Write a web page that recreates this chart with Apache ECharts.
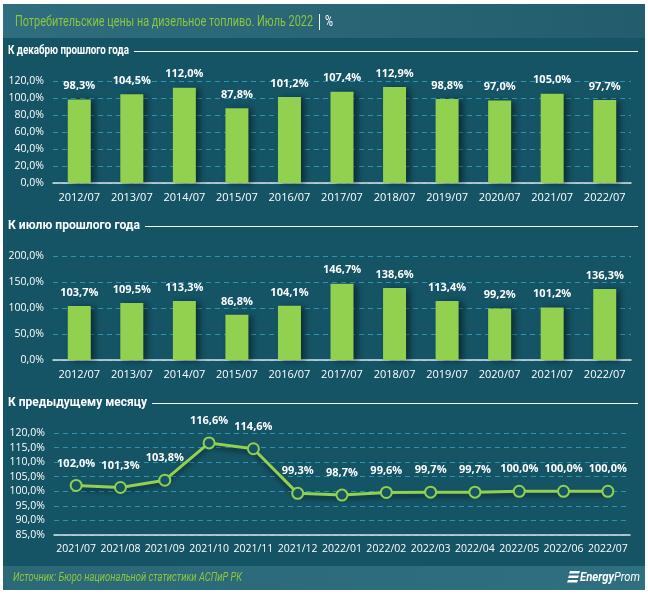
<!DOCTYPE html>
<html><head><meta charset="utf-8">
<script src="https://cdn.jsdelivr.net/npm/echarts@6/dist/echarts.min.js"></script>
<style>html,body{margin:0;padding:0;background:#fff}#c{width:648px;height:595px}</style>
</head><body><div id="c"></div>
<script>
const yearCats = ['2012/07','2013/07','2014/07','2015/07','2016/07','2017/07','2018/07','2019/07','2020/07','2021/07','2022/07'];
const decValues = [98.3,104.5,112.0,87.8,101.2,107.4,112.9,98.8,97.0,105.0,97.7];
const julValues = [103.7,109.5,113.3,86.8,104.1,146.7,138.6,113.4,99.2,101.2,136.3];
const monthCats = ['2021/07','2021/08','2021/09','2021/10','2021/11','2021/12','2022/01','2022/02','2022/03','2022/04','2022/05','2022/06','2022/07'];
const momValues = [102.0,101.3,103.8,116.6,114.6,99.3,98.7,99.6,99.7,99.7,100.0,100.0,100.0];

const FONT = '"Open Sans", "Noto Sans", sans-serif';
const GREEN = '#92d050';
const fmt = v => v.toFixed(1).replace('.', ',') + '%';

const mctx = document.createElement('canvas').getContext('2d');
function fitText(text, font, x, y, targetW, fill){
  mctx.font = font;
  const w = mctx.measureText(text).width;
  const s = targetW / w;
  return {type:'text', x:x, y:y, scaleX:s, originX:0, originY:0,
    style:{text:text, fill:fill, font:font, textVerticalAlign:'middle', textBaseline:'middle'}};
}

const chart = echarts.init(document.getElementById('c'), null, {renderer:'canvas'});

function xAx(grid, data, fs){
  return {type:'category', gridIndex:grid, data:data,
    axisLine:{show:true, lineStyle:{color:'#d9e4e8', width:1.5}},
    axisTick:{show:false},
    axisLabel:{interval:0, hideOverlap:false, color:'#ffffff', fontFamily:FONT, fontSize:fs, margin:9}};
}
function yAx(grid, min, max, interval){
  return {type:'value', gridIndex:grid, min:min, max:max, interval:interval,
    axisLine:{show:false}, axisTick:{show:false},
    axisLabel:{color:'#ffffff', fontFamily:FONT, fontSize:10.5, margin:9, formatter:v=>fmt(v)},
    splitLine:{show:true, lineStyle:{color:'#2f93b0', type:[5,4], width:1}}};
}
function barSeries(idx, data){
  return {type:'bar', xAxisIndex:idx, yAxisIndex:idx, data:data, barWidth:23,
    itemStyle:{color:GREEN, shadowColor:'rgba(0,0,0,0.45)', shadowBlur:6, shadowOffsetX:4, shadowOffsetY:1},
    label:{show:true, position:'top', distance:8, color:'#ffffff', fontFamily:FONT, fontWeight:'bold', fontSize:11, formatter:p=>fmt(p.value)}};
}

const TFONT = 'bold 13px Roboto, sans-serif';
function sectionTitle(text, y, lineStart){
  return [
    fitText(text, TFONT, 8, y, lineStart - 13, '#ffffff'),
    {type:'line', shape:{x1:lineStart, y1:y+0.5, x2:638, y2:y+0.5}, style:{stroke:'#ffffff', lineWidth:1}}
  ];
}

const option = {
  animation:false,
  backgroundColor:'#ffffff',
  graphic:[
    {type:'rect', shape:{x:3, y:4, width:642, height:586}, style:{fill:'#145465'}, z:-10},
    {type:'rect', shape:{x:3, y:4, width:642, height:34}, z:-9,
      style:{fill:new echarts.graphic.LinearGradient(0,0,1,0,[{offset:0,color:'#2f6e7e'},{offset:1,color:'#235d6d'}])}},
    {type:'rect', shape:{x:3, y:566, width:642, height:24}, z:-9,
      style:{fill:new echarts.graphic.LinearGradient(0,0,1,0,[{offset:0,color:'#2b6878'},{offset:1,color:'#2f6f80'}])}},
    fitText('Потребительские цены на дизельное топливо. Июль 2022', '15px Roboto, sans-serif', 15, 22, 298, '#8cc63f'),
    {type:'line', shape:{x1:319.5, y1:14, x2:319.5, y2:30}, style:{stroke:'#ffffff', lineWidth:1}},
    fitText('%', '15px Roboto, sans-serif', 325, 22, 8, '#ffffff'),
    ...sectionTitle('К декабрю прошлого года', 51, 134),
    ...sectionTitle('К июлю прошлого года', 226, 145),
    ...sectionTitle('К предыдущему месяцу', 403, 152),
    fitText('Источник: Бюро национальной статистики АСПиР РК', 'italic 12px Roboto, sans-serif', 13, 578, 229, '#8cc63f'),
    {type:'polygon', shape:{points:[[570,571],[580,571],[579,573.5],[569,573.5]]}, style:{fill:'#ffffff'}},
    {type:'polygon', shape:{points:[[569,575.5],[579,575.5],[578,578],[568,578]]}, style:{fill:'#ffffff'}},
    {type:'polygon', shape:{points:[[568,580],[578,580],[577,582.5],[567,582.5]]}, style:{fill:'#ffffff'}},
    fitText('Energy', 'italic bold 12px Roboto, sans-serif', 580, 578, 34, '#ffffff'),
    fitText('Prom', 'italic 12px Roboto, sans-serif', 614, 578, 26, '#ffffff')
  ],
  grid:[
    {left:53, right:17, top:81, height:102},
    {left:53, right:17, top:256, height:104},
    {left:54, right:18, top:433, height:102}
  ],
  xAxis:[xAx(0, yearCats, 11), xAx(1, yearCats, 11), xAx(2, monthCats, 10.5)],
  yAxis:[yAx(0, 0, 120, 20), yAx(1, 0, 200, 50), yAx(2, 85, 120, 5)],
  series:[
    barSeries(0, decValues),
    barSeries(1, julValues),
    {type:'line', xAxisIndex:2, yAxisIndex:2, data:momValues,
      symbol:'circle', symbolSize:11,
      lineStyle:{color:GREEN, width:3, shadowColor:'rgba(0,0,0,0.5)', shadowBlur:5, shadowOffsetY:3},
      itemStyle:{color:'#145465', borderColor:GREEN, borderWidth:2},
      label:{show:true, position:'top', distance:10, color:'#ffffff', fontFamily:FONT, fontWeight:'bold', fontSize:11, formatter:p=>fmt(p.value)}}
  ]
};
chart.setOption(option);
</script>
</body></html>
